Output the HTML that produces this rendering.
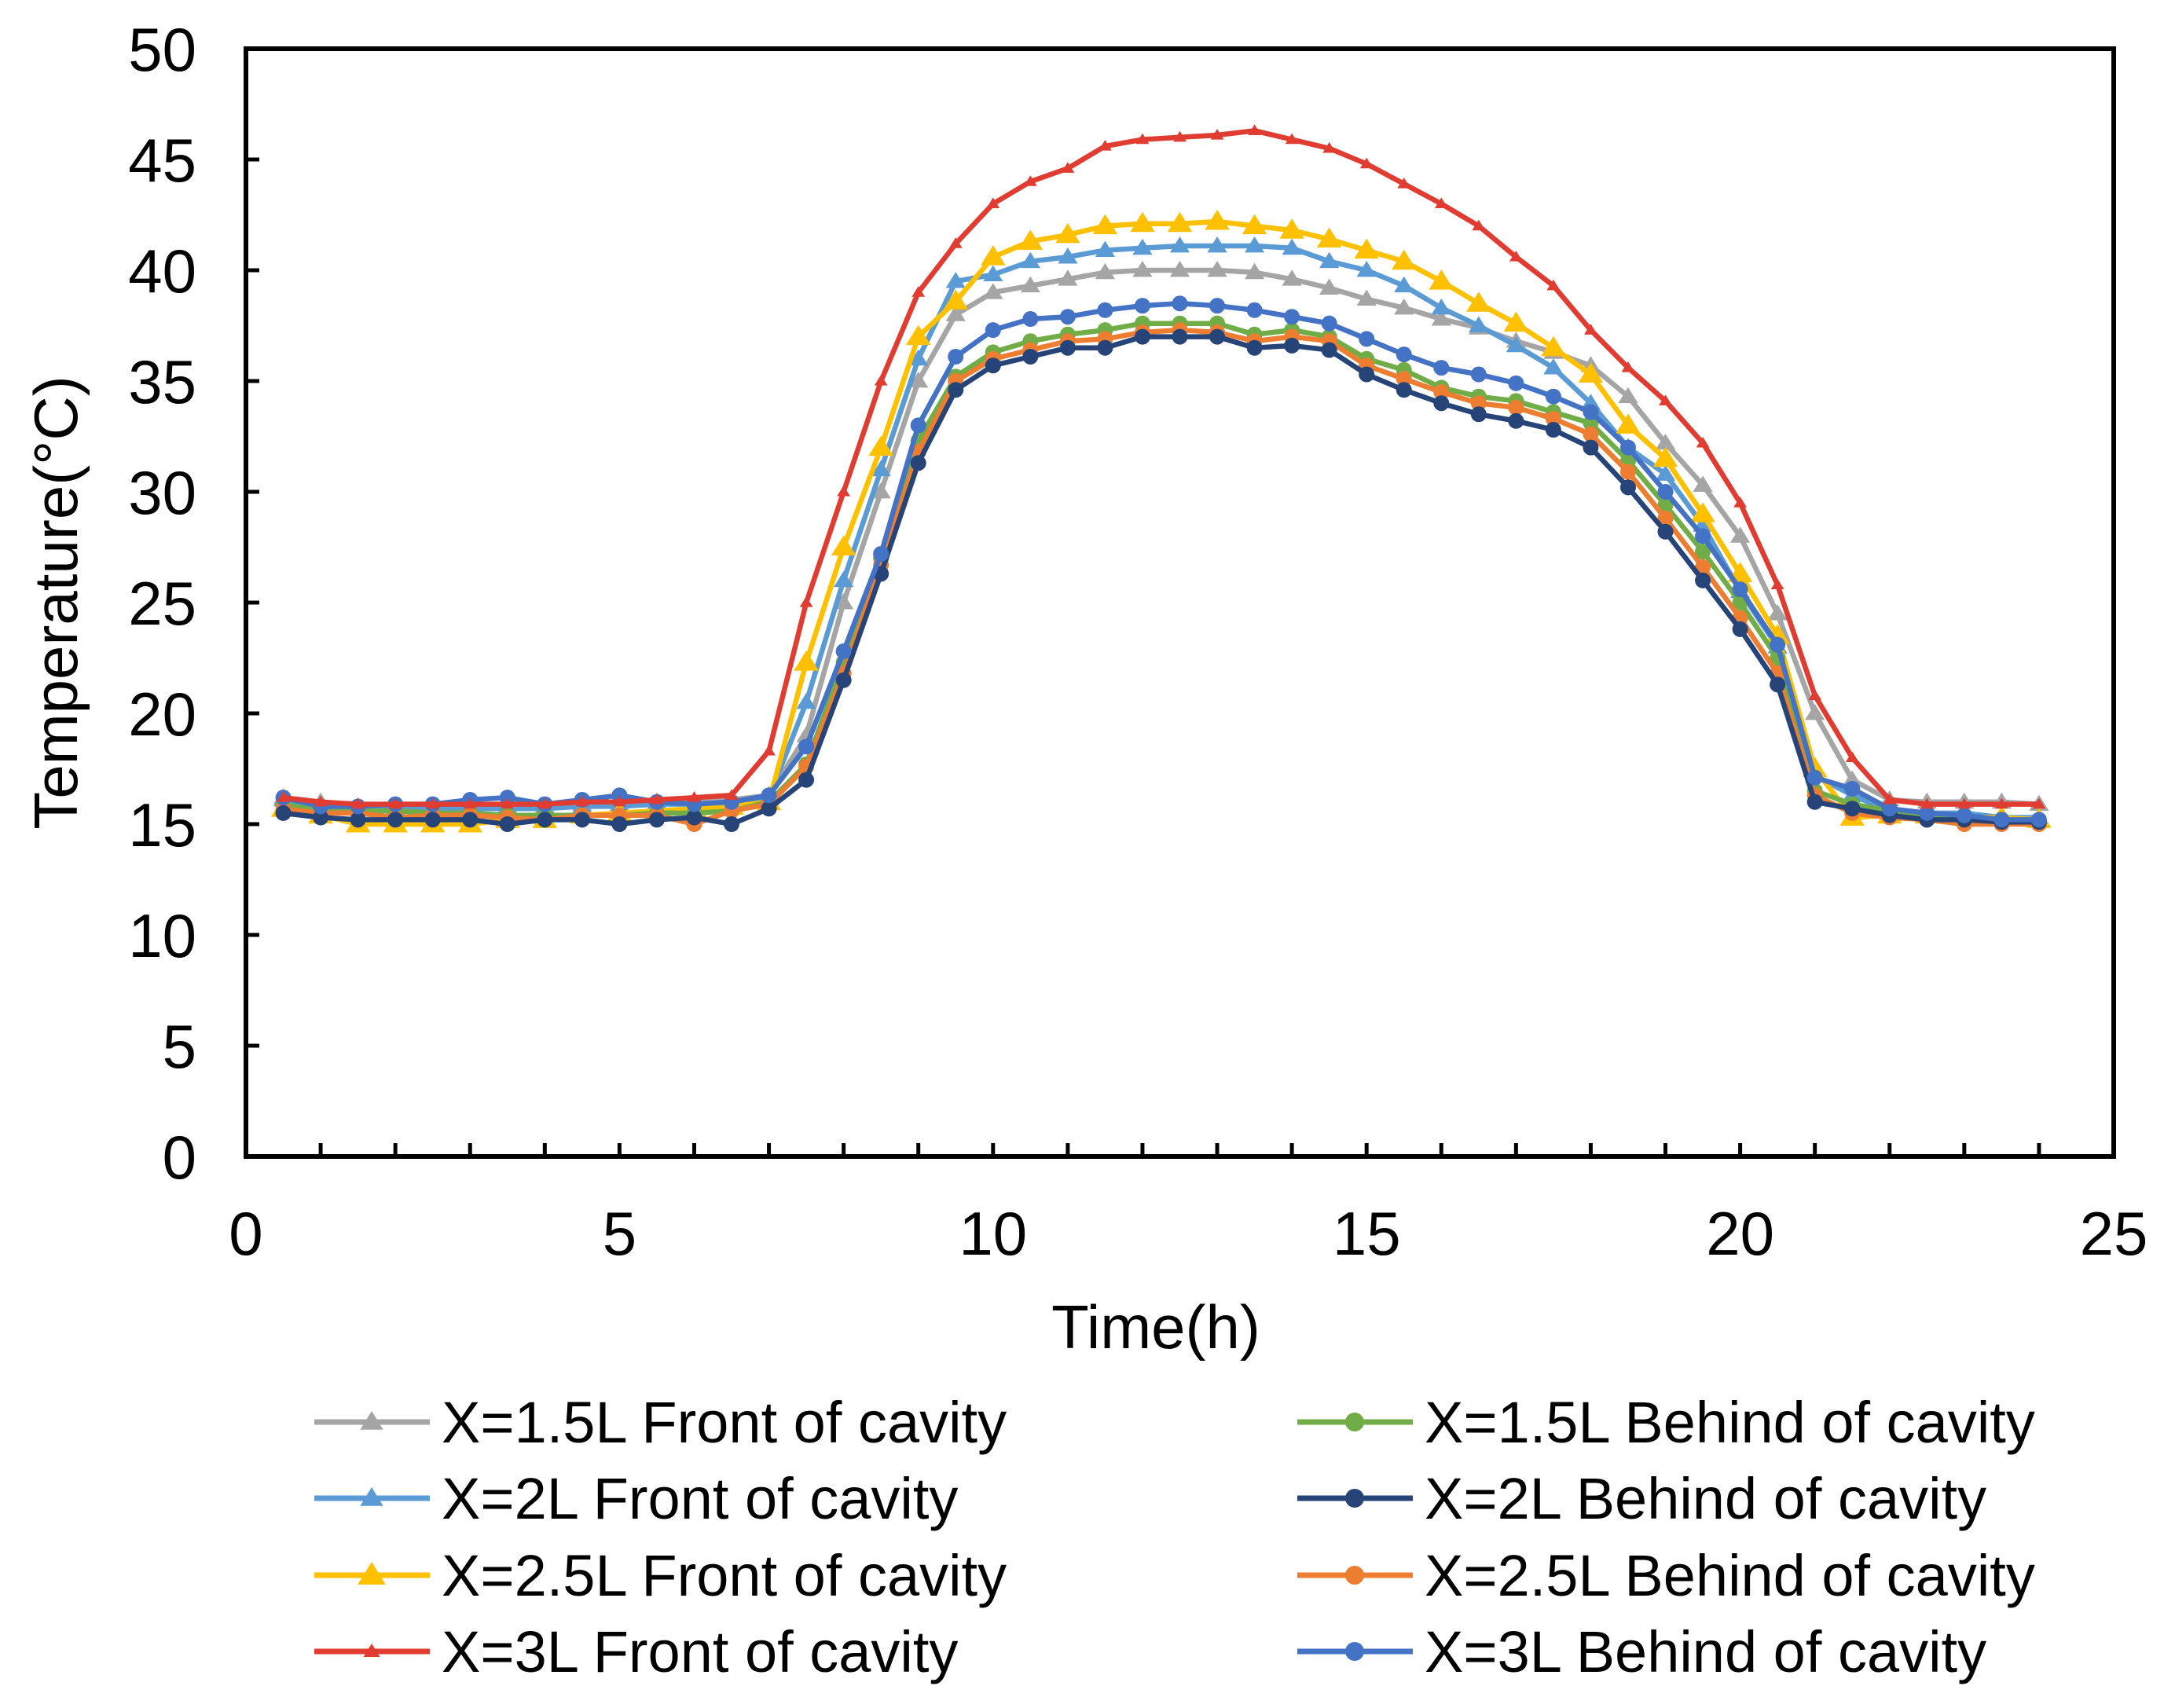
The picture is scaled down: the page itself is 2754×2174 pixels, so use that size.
<!DOCTYPE html>
<html><head><meta charset="utf-8"><style>
html,body{margin:0;padding:0;background:#fff}
svg{display:block}
text{font-family:"Liberation Sans",Arial,sans-serif;fill:#000}
</style></head><body>
<svg id="chart" width="2754" height="2174" viewBox="0 0 2754 2174" xmlns="http://www.w3.org/2000/svg">
<g id="grid"></g>
<g id="series"></g>
<g id="legend"></g>
<text x="0" y="0" font-size="78" text-anchor="middle" transform="translate(98,767) rotate(-90)">Temperature(°C)</text>
<text x="1471" y="1716" font-size="78" text-anchor="middle">Time(h)</text>
</svg>
<script>
const times=[0.5,1,1.5,2,2.5,3,3.5,4,4.5,5,5.5,6,6.5,7,7.5,8,8.5,9,9.5,10,10.5,11,11.5,12,12.5,13,13.5,14,14.5,15,15.5,16,16.5,17,17.5,18,18.5,19,19.5,20,20.5,21,21.5,22,22.5,23,23.5,24];
const gray1_5F=[16.2,16.0,15.8,15.8,15.8,15.8,15.8,15.8,15.9,15.9,16.0,16.0,16.1,16.3,19,25,30,35,38,39.0,39.3,39.6,39.9,40.0,40.0,40.0,39.9,39.6,39.2,38.7,38.3,37.8,37.4,36.8,36.3,35.7,34.3,32.2,30.3,28.0,24.5,20.0,17.0,16.1,16.0,16.0,16.0,15.9];
const blue2F=[16.1,15.8,15.7,15.7,15.7,15.7,15.7,15.7,15.8,15.8,15.9,15.9,16.0,16.2,20.5,26,31,36,39.5,39.8,40.4,40.6,40.9,41.0,41.1,41.1,41.1,41.0,40.4,40.0,39.3,38.3,37.5,36.6,35.6,34.0,32,30.8,28.5,25.5,23,17.2,16.3,15.6,15.5,15.5,15.3,15.3];
const yellow2_5F=[15.7,15.4,15.0,15.0,15.0,15.0,15.2,15.2,15.4,15.5,15.6,15.7,15.8,16.0,22.3,27.5,32,37,38.6,40.6,41.3,41.6,42.0,42.1,42.1,42.2,42.0,41.8,41.4,40.9,40.4,39.5,38.5,37.6,36.5,35.3,33.0,31.5,29.0,26.3,23.5,17.5,15.3,15.4,15.4,15.3,15.3,15.2];
const red3F=[16.2,16.0,15.9,15.9,15.9,15.9,15.9,15.9,16.0,16.0,16.1,16.2,16.3,18.3,25,30,35,39,41.2,43,44,44.6,45.6,45.9,46.0,46.1,46.3,45.9,45.5,44.8,43.9,43.0,42.0,40.6,39.3,37.3,35.6,34.1,32.2,29.5,25.8,20.8,18.0,16.1,15.9,15.9,15.9,15.9];
const green1_5B=[15.9,15.6,15.6,15.6,15.5,15.5,15.4,15.4,15.4,15.4,15.5,15.5,15.6,16.0,17.7,22.3,27,32.3,35.2,36.3,36.8,37.1,37.3,37.6,37.6,37.6,37.1,37.3,37.0,36.0,35.5,34.7,34.3,34.1,33.6,33.1,31.4,29.4,27.3,25.0,22.5,16.5,15.9,15.6,15.4,15.3,15.2,15.1];
const navy2B=[15.5,15.3,15.2,15.2,15.2,15.2,15.0,15.2,15.2,15.0,15.2,15.3,15.0,15.7,17.0,21.5,26.3,31.3,34.6,35.7,36.1,36.5,36.5,37.0,37.0,37.0,36.5,36.6,36.4,35.3,34.6,34.0,33.5,33.2,32.8,32.0,30.2,28.2,26.0,23.8,21.3,16.0,15.7,15.4,15.2,15.2,15.1,15.1];
const orange2_5B=[15.7,15.5,15.5,15.3,15.4,15.4,15.3,15.2,15.4,15.4,15.4,15.0,15.6,15.9,17.6,21.8,26.7,31.8,35.0,36.0,36.4,36.8,36.9,37.2,37.3,37.2,36.8,37.0,36.8,35.7,35.1,34.5,34.0,33.8,33.3,32.6,30.9,28.8,26.6,24.3,21.8,16.3,15.5,15.3,15.2,15.0,15.0,15.0];
const blue3B=[16.2,15.8,15.8,15.9,15.9,16.1,16.2,15.9,16.1,16.3,16.0,15.9,16.0,16.3,18.5,22.8,27.2,33,36.1,37.3,37.8,37.9,38.2,38.4,38.5,38.4,38.2,37.9,37.6,36.9,36.2,35.6,35.3,34.9,34.3,33.6,32.0,30.0,28.0,25.6,23.1,17.1,16.6,15.7,15.5,15.4,15.2,15.2];
const xTicks=[0,5,10,15,20,25];
const yTicks=[0,5,10,15,20,25,30,35,40,45,50];
const seriesNames=["X=1.5L Front of cavity","X=2L Front of cavity","X=2.5L Front of cavity","X=3L Front of cavity","X=1.5L Behind of cavity","X=2L Behind of cavity","X=2.5L Behind of cavity","X=3L Behind of cavity"];
const seriesData=[gray1_5F,blue2F,yellow2_5F,red3F,green1_5B,navy2B,orange2_5B,blue3B];
const colors=["#a5a5a5","#5b9bd5","#ffc000","#e03c31","#70ad47","#264478","#ed7d31","#4472c4"];
const markers=["tri","tri","tri","tri","circ","circ","circ","circ"];
const mSize=[12,12,15,8,10,10,10,10];

const NS="http://www.w3.org/2000/svg";
const L=313,R=2690,T=62,B=1472;
const xS=v=>L+(v/25)*(R-L);
const yS=v=>B-(v/50)*(B-T);
function mk(tag,attrs,parent){const e=document.createElementNS(NS,tag);for(const k in attrs)e.setAttribute(k,attrs[k]);parent.appendChild(e);return e;}
const grid=document.getElementById('grid');
const frame=mk('rect',{x:L,y:T,width:R-L,height:B-T,fill:'none',stroke:'#000','stroke-width':6},grid);


for(let h=1;h<25;h++){const t=mk('line',{x1:xS(h),x2:xS(h),y1:B,y2:B-17,stroke:'#000','stroke-width':5},grid);

}
xTicks.forEach(v=>{const t=mk('text',{x:xS(v),y:1597,'font-size':78,'text-anchor':'middle'},grid);t.textContent=v;

});
yTicks.forEach(v=>{if(v>0&&v<50){const t=mk('line',{x1:L,x2:L+17,y1:yS(v),y2:yS(v),stroke:'#000','stroke-width':5},grid);

}
const l=mk('text',{x:250,y:yS(v)+28,'font-size':78,'text-anchor':'end'},grid);l.textContent=v;

});
function marker(p,type,x,y,s,c){
 if(type==='tri'){const e=mk('polygon',{points:`${x},${y-s} ${x-s*1.05},${y+s*0.7} ${x+s*1.05},${y+s*0.7}`,fill:c},p);return e;}
 return mk('circle',{cx:x,cy:y,r:s,fill:c},p);
}
const sg=document.getElementById('series');
const order=[0,1,2,4,6,5,7,3];
order.forEach(i=>{
 const g=mk('g',{},sg);
 
 
 const d=seriesData[i].map((v,k)=>(k?'L':'M')+xS(times[k]).toFixed(1)+','+yS(v).toFixed(1)).join(' ');
 const pl=mk('path',{d:d,fill:'none',stroke:colors[i],'stroke-width':6.5,'stroke-linejoin':'round'},g);
 
 
 seriesData[i].forEach((v,k)=>{const m=marker(g,markers[i],xS(times[k]),yS(v),mSize[i],colors[i]);
 
 });
});
const lg=document.getElementById('legend');
const rows=[1810,1907,2005,2102];
seriesNames.forEach((n,i)=>{
 const col=i<4?0:1,row=i%4;
 const x0=col?1651:400,y=rows[row];
 const g=mk('g',{},lg);
 
 
 mk('line',{x1:x0,x2:x0+147,y1:y,y2:y,stroke:colors[i],'stroke-width':7},g);
 marker(g,markers[i],x0+73,y,mSize[i]+2,colors[i]);
 const t=mk('text',{x:x0+162,y:y+26,'font-size':74},g);t.textContent=n;
});
</script>
</body></html>
